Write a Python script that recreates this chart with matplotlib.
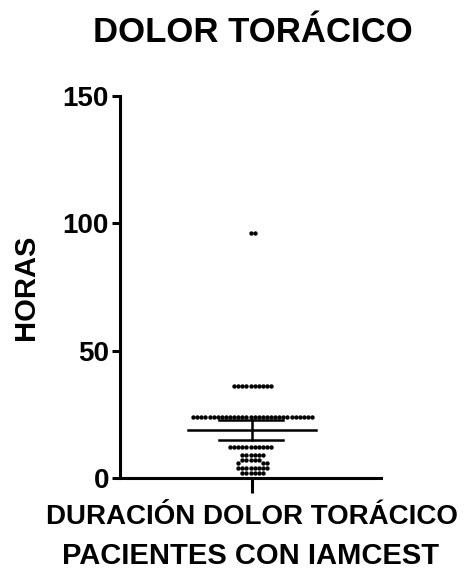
import numpy as np
import matplotlib.pyplot as plt

plt.rcParams['font.family'] = ['Liberation Sans', 'DejaVu Sans']
plt.rcParams['font.weight'] = 'bold'

# horas de dolor torácico (valor, número de pacientes)
valores = [96, 36, 24, 12, 9, 7, 6, 4, 2]
conteos = [2, 10, 30, 11, 6, 5, 3, 8, 6]
media = 18.8
error_bajo = 14.9
error_alto = 22.8

titulo = 'DOLOR TORÁCICO'
categoria = 'DURACIÓN DOLOR TORÁCICO'
grupo = 'PACIENTES CON IAMCEST'

datos = np.repeat(valores, conteos).astype(float)

fig = plt.figure(figsize=(4.71, 5.78), dpi=100)
ax = fig.add_axes([0.2548, 0.173, 0.5541, 0.661])
ax.set_xlim(-1, 1)
ax.set_ylim(0, 150)

# beeswarm sencillo en pixeles
ax_w = 0.5541 * 471
ax_h = 0.661 * 578
px_x = ax_w / 2.0
px_y = ax_h / 150.0
d = 4.1
colocados = []
xs = []
for v in sorted(datos, reverse=True):
    y = v * px_y
    k = 0
    while True:
        cands = [0.0] if k == 0 else [k * d / 2, -k * d / 2]
        ok = None
        for c in cands:
            if all((c - cx) ** 2 + (y - cy) ** 2 >= d * d * 0.95 for cx, cy in colocados):
                ok = c
                break
        if ok is not None:
            colocados.append((ok, y))
            xs.append((ok / px_x, v))
            break
        k += 1
xs = np.array(xs)
ax.scatter(xs[:, 0], xs[:, 1], s=10, color='black', zorder=3, linewidths=0)

# media y error
ax.plot([-0.48, 0.5], [media, media], color='black', lw=1.8, zorder=4)
ax.plot([-0.24, 0.25], [error_alto, error_alto], color='black', lw=1.8, zorder=4)
ax.plot([-0.24, 0.25], [error_bajo, error_bajo], color='black', lw=1.8, zorder=4)
ax.plot([0.01, 0.01], [error_bajo, error_alto], color='black', lw=1.8, zorder=4)

for s in ['top', 'right']:
    ax.spines[s].set_visible(False)
for s in ['left', 'bottom']:
    ax.spines[s].set_linewidth(2.2)

ax.set_yticks([0, 50, 100, 150])
ax.tick_params(axis='y', length=6, width=2.2, labelsize=20, pad=2)
ax.set_xticks([0.01])
ax.set_xticklabels([categoria])
ax.tick_params(axis='x', length=11, width=2.2, labelsize=20, pad=8)
for t in ax.get_yticklabels() + ax.get_xticklabels():
    t.set_fontweight('bold')

ax.set_ylabel('HORAS', fontsize=21, fontweight='bold', labelpad=16)
ax.set_xlabel(grupo, fontsize=21, fontweight='bold', labelpad=8)
fig.text(0.537, 0.943, titulo, fontsize=25, fontweight='bold', ha='center', va='center')

fig.savefig('out.png', dpi=100)
